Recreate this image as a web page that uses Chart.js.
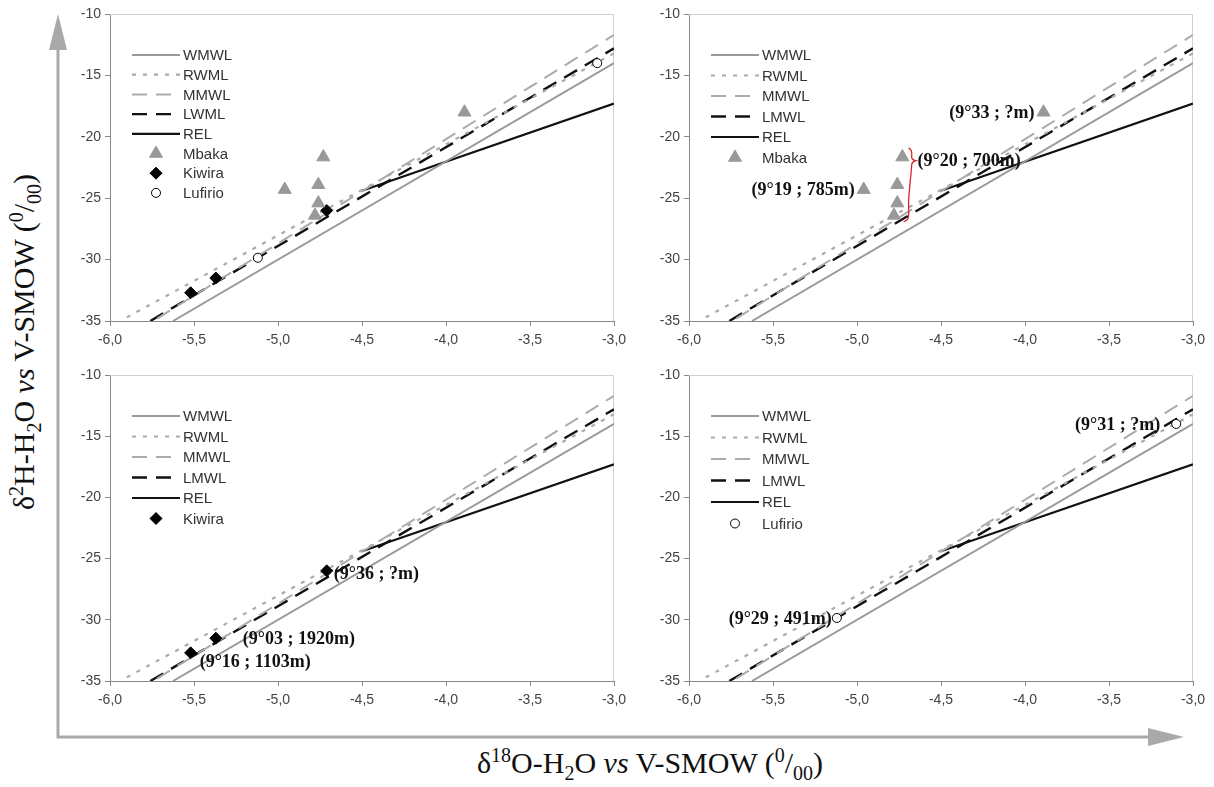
<!DOCTYPE html>
<html>
<head>
<meta charset="utf-8">
<script src="https://cdn.jsdelivr.net/npm/chart.js@4.4.1/dist/chart.umd.min.js"></script>
<style>
  body { margin: 0; background: #fff; }
  #wrap { position: relative; width: 1214px; height: 787px; overflow: hidden; }
  canvas { position: absolute; }
  .title { position: absolute; font-family: "Liberation Serif", "Times New Roman", serif; font-size: 30px; color: #111; white-space: nowrap; }
  .title sup, .title sub { font-size: 20px; }
  #ytitle { left: 25px; top: 342px; transform: translate(-50%, -50%) rotate(-90deg); }
  #xtitle { left: 650px; top: 764px; transform: translate(-50%, -50%); }
</style>
</head>
<body>
<div id="wrap">
  <svg width="1214" height="787" style="position:absolute;left:0;top:0">
    <polyline points="58,40 58,737 1155,737" stroke="#a9a9a9" stroke-width="3" fill="none"/>
    <polygon points="58,14 49,50 67,50" fill="#a9a9a9"/>
    <polygon points="1184,737 1148,728 1148,746" fill="#a9a9a9"/>
  </svg>
  <canvas id="c1" width="580" height="360" style="left:60px;top:0px"></canvas>
  <canvas id="c2" width="575" height="360" style="left:639px;top:0px"></canvas>
  <canvas id="c3" width="580" height="359" style="left:60px;top:361px"></canvas>
  <canvas id="c4" width="575" height="359" style="left:639px;top:361px"></canvas>
  <div class="title" id="ytitle">&delta;<sup>2</sup>H-H<sub>2</sub>O <i>vs</i> V-SMOW (<sup>0</sup>/<sub>00</sub>)</div>
  <div class="title" id="xtitle">&delta;<sup>18</sup>O-H<sub>2</sub>O <i>vs</i> V-SMOW (<sup>0</sup>/<sub>00</sub>)</div>
</div>
<script>
// axes
let xTicks = [-6, -5.5, -5, -4.5, -4, -3.5, -3]
let yTicks = [-35, -30, -25, -20, -15, -10]

// meteoric water lines (end points)
let lineNames = ["WMWL", "RWML", "MMWL", "LWML", "REL"]
let lineNamesB = ["WMWL", "RWML", "MMWL", "LMWL", "REL"]
let wmwlX = [-5.625, -3.0], wmwlY = [-35.0, -14.0]
let rwmlX = [-5.9, -3.0], rwmlY = [-34.7, -13.2]
let mmwlX = [-5.72, -3.0], mmwlY = [-34.8, -11.7]
let lwmlX = [-5.76, -3.0], lwmlY = [-35.0, -12.8]
let relX = [-4.5, -3.0], relY = [-24.4, -17.3]

// samples
let mbakaX = [-4.96, -4.76, -4.73, -4.76, -4.78, -3.89]
let mbakaY = [-24.3, -23.9, -21.65, -25.4, -26.4, -18.0]
let kiwiraX = [-5.52, -5.37, -4.71]
let kiwiraY = [-32.7, -31.5, -26.0]
let lufirioX = [-5.12, -3.1]
let lufirioY = [-29.85, -14.0]

// annotations
let mbakaLabels = ["(9°19 ; 785m)", "(9°20 ; 700m)", "(9°33 ; ?m)"]
let kiwiraLabels = ["(9°16 ; 1103m)", "(9°03 ; 1920m)", "(9°36 ; ?m)"]
let lufirioLabels = ["(9°29 ; 491m)", "(9°31 ; ?m)"]

function pts(xs, ys) {
    return xs.map(function (x, i) { return { x: x, y: ys[i] } })
}

function lineSets(names) {
    return [
        { label: names[0], data: pts(wmwlX, wmwlY), borderColor: "#9a9a9a", borderWidth: 2, borderDash: [] },
        { label: names[1], data: pts(rwmlX, rwmlY), borderColor: "#ababab", borderWidth: 2.2, borderDash: [4, 7] },
        { label: names[2], data: pts(mmwlX, mmwlY), borderColor: "#ababab", borderWidth: 2, borderDash: [15, 9] },
        { label: names[3], data: pts(lwmlX, lwmlY), borderColor: "#111", borderWidth: 2.4, borderDash: [15, 9] },
        { label: names[4], data: pts(relX, relY), borderColor: "#111", borderWidth: 2.2, borderDash: [] }
    ].map(function (d) {
        d.showLine = true
        d.pointRadius = 0
        d.order = 2
        d.kind = "line"
        return d
    })
}

let mbakaSet = function () {
    return { label: "Mbaka", data: pts(mbakaX, mbakaY), pointStyle: "triangle", pointRadius: 7.5,
        backgroundColor: "#999", borderColor: "#999", borderWidth: 1, order: 0, kind: "point" }
}
let kiwiraSet = function () {
    return { label: "Kiwira", data: pts(kiwiraX, kiwiraY), pointStyle: "rectRot", pointRadius: 6,
        backgroundColor: "#000", borderColor: "#000", borderWidth: 1, order: 0, kind: "point" }
}
let lufirioSet = function () {
    return { label: "Lufirio", data: pts(lufirioX, lufirioY), pointStyle: "circle", pointRadius: 4.5,
        backgroundColor: "#fff", borderColor: "#000", borderWidth: 1, order: 0, kind: "point" }
}

function marker(ctx, ds, x, y) {
    let r = ds.pointRadius
    ctx.save()
    ctx.setLineDash([])
    ctx.fillStyle = ds.backgroundColor
    ctx.strokeStyle = ds.borderColor
    ctx.lineWidth = ds.borderWidth
    ctx.beginPath()
    if (ds.pointStyle == "triangle") {
        ctx.moveTo(x, y - r)
        ctx.lineTo(x + r * 0.866, y + r * 0.5)
        ctx.lineTo(x - r * 0.866, y + r * 0.5)
        ctx.closePath()
    } else if (ds.pointStyle == "rectRot") {
        ctx.moveTo(x, y - r)
        ctx.lineTo(x + r, y)
        ctx.lineTo(x, y + r)
        ctx.lineTo(x - r, y)
        ctx.closePath()
    } else {
        ctx.arc(x, y, r, 0, Math.PI * 2)
    }
    ctx.fill()
    ctx.stroke()
    ctx.restore()
}

// frame, legend and labels
let decor = {
    id: "decor",
    beforeDatasetsDraw: function (chart) {
        let a = chart.chartArea
        let ctx = chart.ctx
        ctx.save()
        ctx.strokeStyle = "#d0d0d0"
        ctx.lineWidth = 1
        ctx.beginPath()
        ctx.moveTo(a.left, a.top + 0.5)
        ctx.lineTo(a.right - 0.5, a.top + 0.5)
        ctx.lineTo(a.right - 0.5, a.bottom)
        ctx.stroke()
        ctx.restore()
    },
    afterDraw: function (chart) {
        let a = chart.chartArea
        let ctx = chart.ctx
        let o = chart.options.plugins.decor
        let x0 = a.left + 22
        let y = a.top + 41
        ctx.save()
        ctx.font = "15px 'Liberation Sans', Arial, sans-serif"
        ctx.textBaseline = "middle"
        chart.data.datasets.forEach(function (ds) {
            if (ds.kind == "line") {
                ctx.strokeStyle = ds.borderColor
                ctx.lineWidth = ds.borderWidth
                ctx.setLineDash(ds.borderDash)
                ctx.beginPath()
                ctx.moveTo(x0, y)
                ctx.lineTo(x0 + 48, y)
                ctx.stroke()
            } else {
                marker(ctx, ds, x0 + 24, y)
            }
            ctx.fillStyle = "#333"
            ctx.fillText(ds.label, x0 + 51, y + 1)
            y += o.rowH
        })
        ctx.setLineDash([])

        let xs = chart.scales.x, ys = chart.scales.y
        ctx.font = "bold 18px 'Liberation Serif', 'Times New Roman', serif"
        ctx.fillStyle = "#111"
        ;(o.labels || []).forEach(function (l) {
            ctx.textAlign = l.align
            ctx.fillText(l.text, xs.getPixelForValue(l.x) + l.dx, ys.getPixelForValue(l.y) + l.dy)
        })

        if (o.brace) {
            let b = o.brace
            let bx = xs.getPixelForValue(b.x)
            let t = ys.getPixelForValue(b.top)
            let m = ys.getPixelForValue(b.mid)
            let bt = ys.getPixelForValue(b.bottom)
            ctx.strokeStyle = "#d9252b"
            ctx.lineWidth = 1.3
            ctx.beginPath()
            ctx.moveTo(bx - 3, t)
            ctx.quadraticCurveTo(bx + 1, t + 2, bx, m - 4)
            ctx.quadraticCurveTo(bx, m - 1, bx + 4, m)
            ctx.quadraticCurveTo(bx, m + 1, bx, m + 5)
            ctx.bezierCurveTo(bx - 1, m + 25, bx - 4, bt - 30, bx - 3, bt - 6)
            ctx.quadraticCurveTo(bx - 3, bt - 1, bx - 8, bt)
            ctx.stroke()
        }
        ctx.restore()
    }
}

function makeChart(id, datasets, padRight, rowH, labels, brace) {
    let tickFont = { family: "'Liberation Sans', Arial, sans-serif", size: 14 }
    return new Chart(document.getElementById(id).getContext("2d"), {
        type: "scatter",
        data: { datasets: datasets },
        options: {
            responsive: false,
            animation: false,
            devicePixelRatio: 1,
            layout: { padding: { top: 14, right: padRight, left: 0, bottom: 0 } },
            plugins: {
                legend: { display: false },
                tooltip: { enabled: false },
                decor: { rowH: rowH, labels: labels, brace: brace }
            },
            scales: {
                x: {
                    type: "linear", min: -6, max: -3,
                    afterBuildTicks: function (s) { s.ticks = xTicks.map(function (v) { return { value: v } }) },
                    afterFit: function (s) { s.height = 39 },
                    grid: { drawOnChartArea: false, drawTicks: true, tickLength: 5, color: "#888" },
                    border: { color: "#888", width: 1 },
                    ticks: { color: "#444", font: tickFont, padding: 6, maxRotation: 0,
                        callback: function (v) { return v.toFixed(1).replace(".", ",") } }
                },
                y: {
                    type: "linear", min: -35, max: -10,
                    afterBuildTicks: function (s) { s.ticks = yTicks.map(function (v) { return { value: v } }) },
                    afterFit: function (s) { s.width = 50 },
                    grid: { drawOnChartArea: false, drawTicks: true, tickLength: 5, color: "#888" },
                    border: { color: "#888", width: 1 },
                    ticks: { color: "#444", font: tickFont, padding: 4,
                        callback: function (v) { return String(v) } }
                }
            }
        },
        plugins: [decor]
    })
}

makeChart("c1", lineSets(lineNames).concat([mbakaSet(), kiwiraSet(), lufirioSet()]), 26, 19.7)

makeChart("c2", lineSets(lineNamesB).concat([mbakaSet()]), 21, 20.5, [
    { text: mbakaLabels[0], x: mbakaX[0], y: mbakaY[0], dx: -9, dy: 1, align: "right" },
    { text: mbakaLabels[1], x: -4.675, y: -22.0, dx: 6, dy: 0, align: "left" },
    { text: mbakaLabels[2], x: mbakaX[5], y: mbakaY[5], dx: -9, dy: 1, align: "right" }
], { x: -4.675, top: -20.9, mid: -21.95, bottom: -26.9 })

makeChart("c3", lineSets(lineNamesB).concat([kiwiraSet()]), 26, 20.5, [
    { text: kiwiraLabels[0], x: kiwiraX[0], y: kiwiraY[0], dx: 9, dy: 9, align: "left" },
    { text: kiwiraLabels[1], x: kiwiraX[1], y: kiwiraY[1], dx: 27, dy: 1, align: "left" },
    { text: kiwiraLabels[2], x: kiwiraX[2], y: kiwiraY[2], dx: 7, dy: 4, align: "left" }
])

makeChart("c4", lineSets(lineNamesB).concat([lufirioSet()]), 21, 21.5, [
    { text: lufirioLabels[0], x: lufirioX[0], y: lufirioY[0], dx: -5, dy: 1, align: "right" },
    { text: lufirioLabels[1], x: lufirioX[1], y: lufirioY[1], dx: -16, dy: 1, align: "right" }
])
</script>
</body>
</html>
